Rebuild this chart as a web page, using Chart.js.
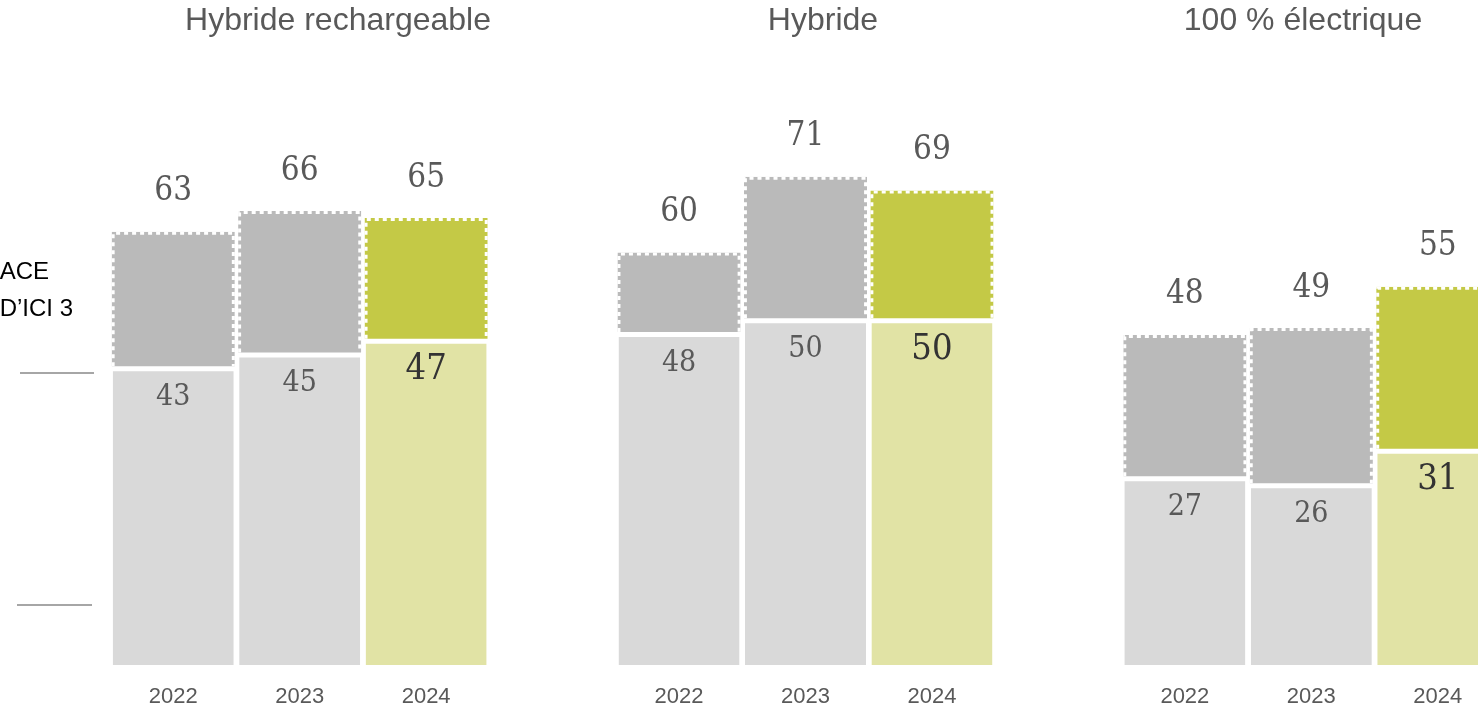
<!DOCTYPE html>
<html lang="fr">
<head>
<meta charset="utf-8">
<script src="https://cdn.jsdelivr.net/npm/chart.js@4/dist/chart.umd.min.js"></script>
<style>
  html, body { margin: 0; padding: 0; background: #fff; overflow: hidden; width: 1478px; height: 707px; }
  /* chart is a bit wider than the window: the last bar is cut off like in the source */
  #wrap { position: absolute; left: 0; top: 0; width: 1510px; height: 707px; }
</style>
</head>
<body>
<div id="wrap"><canvas id="chart"></canvas></div>
<script>
// ── DATA ───────────────────────────────────────────────────────────
const groups = ['Hybride rechargeable', 'Hybride', '100 % électrique'];
const years  = ['2022', '2023', '2024'];

// lower (solid) part and total (top of dashed part), one value per year
const baseRecharge  = [43, 45, 47];
const totalRecharge = [63, 66, 65];
const baseHybride   = [48, 50, 50];
const totalHybride  = [60, 71, 69];
const baseElec      = [27, 26, 31];
const totalElec     = [48, 49, 55];

const sideLabels = ['ACE', 'D\u2019ICI 3'];

// ── BUILD SLOTS (3 years + empty spacer per group) ─────────────────
const labels = [], bases = [], totals = [];
[[baseRecharge, totalRecharge], [baseHybride, totalHybride], [baseElec, totalElec]]
  .forEach(([b, t], g) => {
    years.forEach((yr, i) => { labels.push(yr); bases.push(b[i]); totals.push(t[i]); });
    if (g < groups.length - 1) { labels.push(''); bases.push(null); totals.push(null); }
  });

const isLast = labels.map(l => l === years[years.length - 1]);

const LOW_GREY  = '#d9d9d9';
const TOP_GREY  = '#bababa';
const LOW_GREEN = '#e1e3a5';
const TOP_GREEN = '#c4c946';
const NUM_FONT  = '"DejaVu Serif Condensed", "DejaVu Serif"';

const decorPlugin = {
  id: 'decor',
  afterDatasetsDraw(chart) {
    const { ctx } = chart;
    const lowMeta = chart.getDatasetMeta(0);
    const topMeta = chart.getDatasetMeta(1);
    ctx.save();

    // dashed white outline round the upper part
    ctx.strokeStyle = '#fff';
    ctx.lineWidth = 3;
    ctx.setLineDash([4, 4]);
    topMeta.data.forEach((bar, i) => {
      if (totals[i] == null) return;
      const half = bar.width / 2;
      const l = bar.x - half + 1.5, r = bar.x + half - 1.5;
      const t = bar.y + 1.5, b = bar.base - 3;
      ctx.beginPath();
      ctx.moveTo(l, b); ctx.lineTo(l, t); ctx.lineTo(r, t); ctx.lineTo(r, b);
      ctx.stroke();
    });
    ctx.setLineDash([]);

    // values
    ctx.textAlign = 'center';
    ctx.textBaseline = 'middle';
    topMeta.data.forEach((bar, i) => {
      if (totals[i] == null) return;
      ctx.fillStyle = '#595959';
      ctx.font = '33px ' + NUM_FONT;
      ctx.fillText(String(totals[i]), bar.x, bar.y - 40);
    });
    lowMeta.data.forEach((bar, i) => {
      if (bases[i] == null) return;
      ctx.fillStyle = isLast[i] ? '#333333' : '#595959';
      ctx.font = (isLast[i] ? '36px ' : '30px ') + NUM_FONT;
      ctx.fillText(String(bases[i]), bar.x, bar.y + 28);
    });

    // group titles
    ctx.fillStyle = '#595959';
    ctx.font = '32px "Liberation Sans"';
    const titleX = [338, 823, 1303];
    groups.forEach((g, i) => ctx.fillText(g, titleX[i], 21));

    // cut-off text and rules on the left edge
    ctx.fillStyle = '#000';
    ctx.font = '24px "Liberation Sans"';
    ctx.textAlign = 'right';
    ctx.fillText(sideLabels[0], 49, 272);
    ctx.fillText(sideLabels[1], 73, 309);
    ctx.strokeStyle = '#a6a6a6';
    ctx.lineWidth = 2;
    ctx.beginPath();
    ctx.moveTo(20, 373); ctx.lineTo(94, 373);
    ctx.moveTo(17, 605); ctx.lineTo(92, 605);
    ctx.stroke();

    ctx.restore();
  }
};

new Chart(document.getElementById('chart'), {
  type: 'bar',
  data: {
    labels: labels,
    datasets: [
      {
        label: 'base',
        data: bases.map(v => v == null ? null : [0, v]),
        backgroundColor: isLast.map(l => l ? LOW_GREEN : LOW_GREY),
        borderColor: '#fff',
        borderWidth: { top: 2, left: 0, right: 0, bottom: 0 },
        borderSkipped: false,
        grouped: false,
        barPercentage: 1,
        categoryPercentage: 0.957
      },
      {
        label: 'total',
        data: totals.map((v, i) => v == null ? null : [bases[i], v]),
        backgroundColor: isLast.map(l => l ? TOP_GREEN : TOP_GREY),
        borderColor: '#fff',
        borderWidth: { top: 0, left: 0, right: 0, bottom: 3 },
        borderSkipped: false,
        grouped: false,
        barPercentage: 1,
        categoryPercentage: 0.974
      }
    ]
  },
  options: {
    responsive: true,
    maintainAspectRatio: false,
    animation: false,
    layout: { padding: { left: 110, right: 9, top: 0, bottom: 0 } },
    plugins: { legend: { display: false }, tooltip: { enabled: false } },
    scales: {
      x: {
        grid: { display: false, drawTicks: false },
        border: { display: false },
        ticks: {
          color: '#595959',
          font: { size: 22, family: '"Liberation Sans"' },
          padding: 19,
          autoSkip: false,
          maxRotation: 0
        },
        afterFit(axis) { axis.height = 42; }
      },
      y: {
        display: false,
        min: 0,
        max: 96.7
      }
    }
  },
  plugins: [decorPlugin]
});
</script>
</body>
</html>
